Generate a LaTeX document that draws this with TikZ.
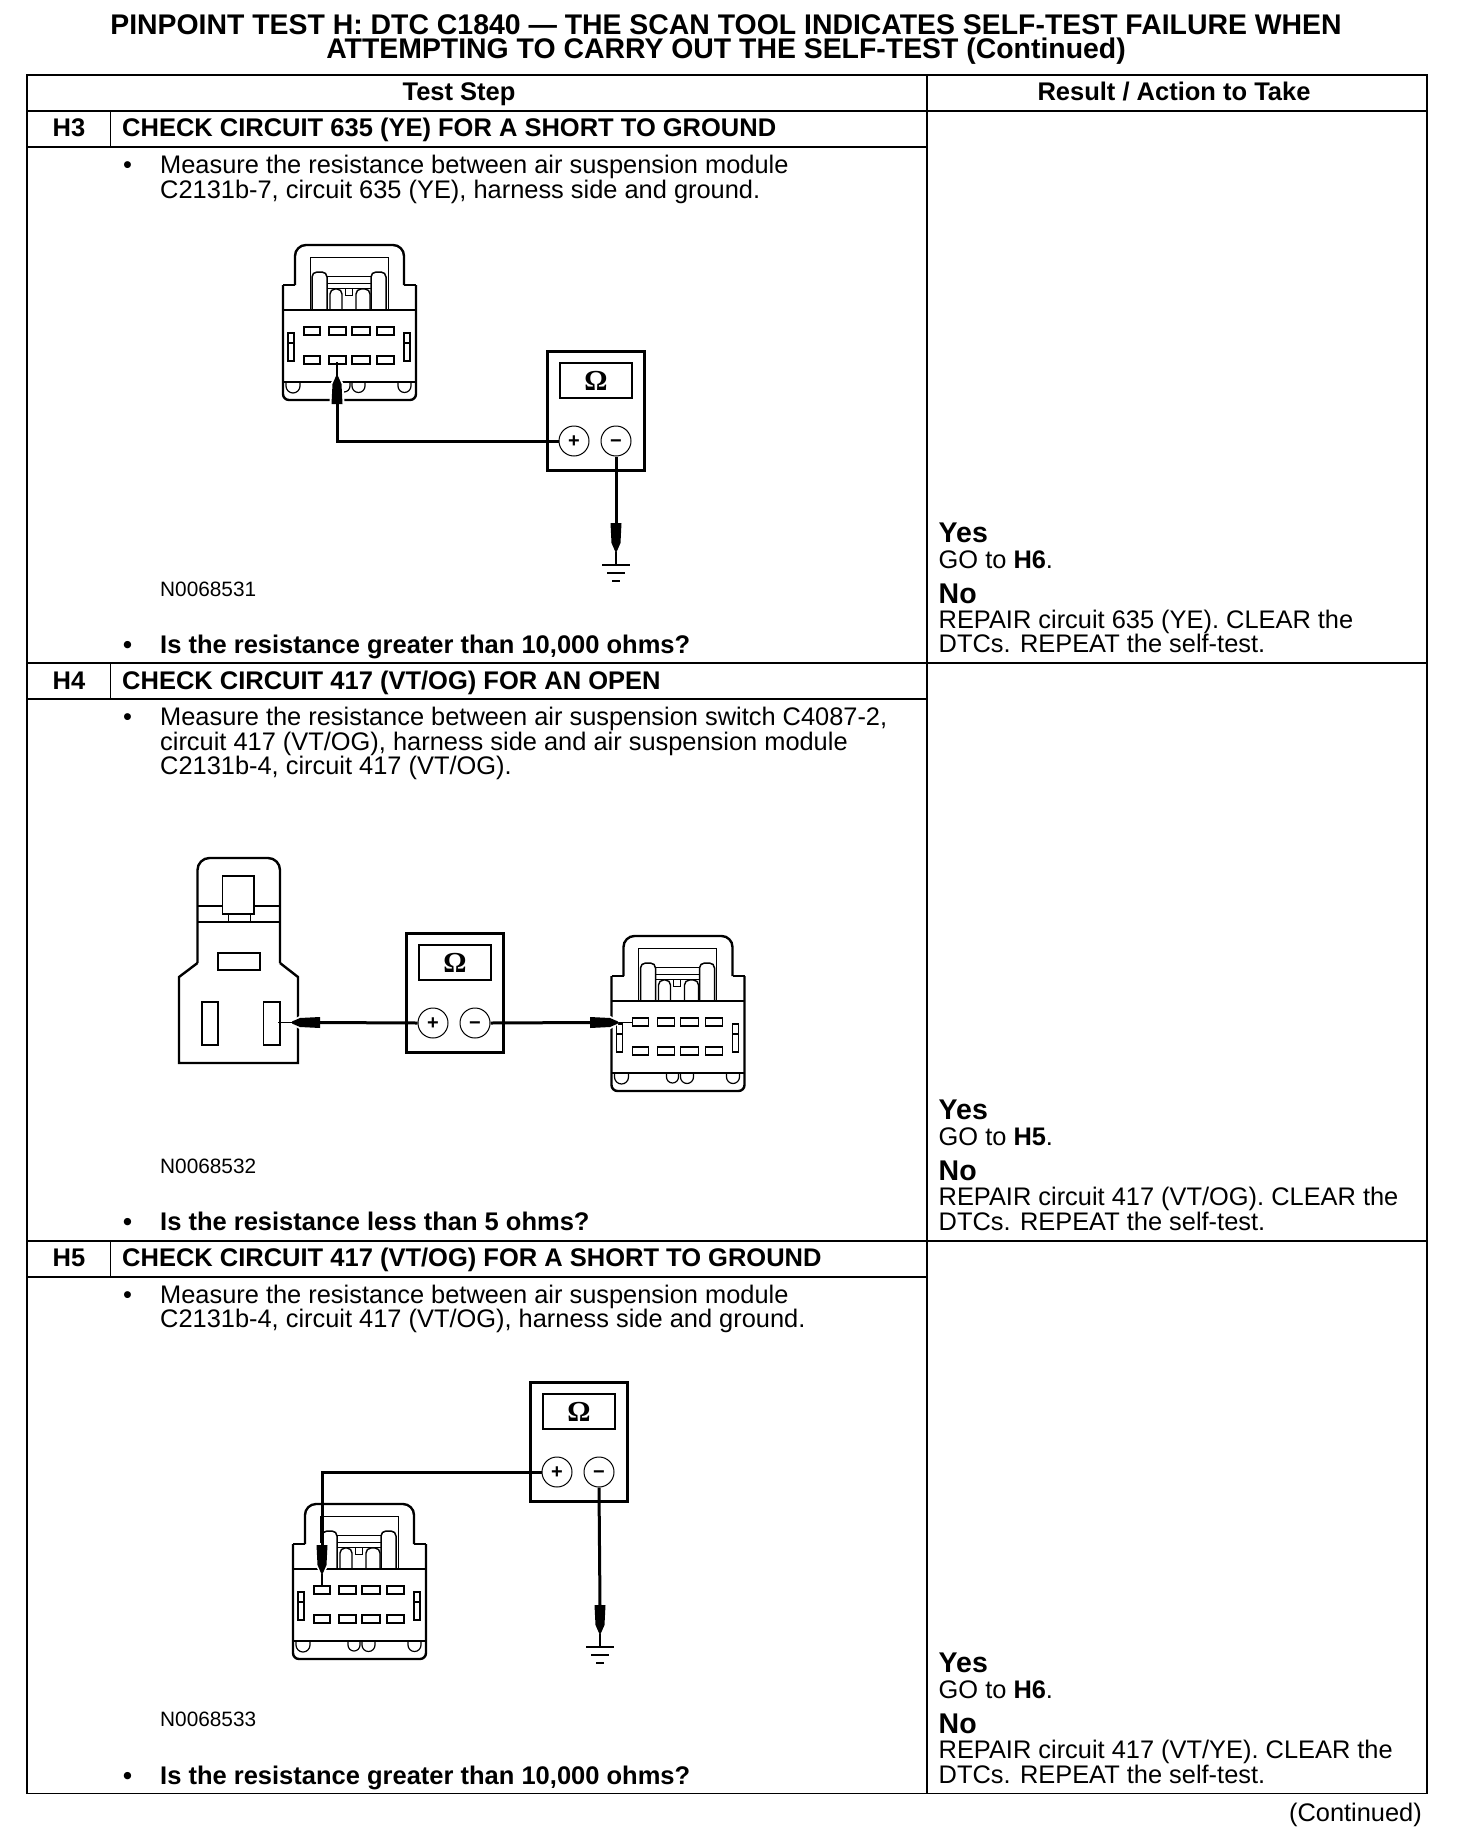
\documentclass[tikz,border=0pt]{standalone}
\usepackage{fontspec}
\setmainfont{Liberation Sans}
\newfontfamily\omegafont{Liberation Serif}
\tikzset{
  x=1pt,y=-1pt,
  tbl/.style={line width=1.9pt,black},
  txt/.style={inner sep=0pt,anchor=base west,font=\fontsize{25.4}{26}\selectfont},
  btxt/.style={txt,font=\fontsize{25.5}{26}\selectfont\bfseries},
  ctxt/.style={btxt,anchor=base},
  ytxt/.style={txt,font=\fontsize{28.5}{29}\selectfont\bfseries},
  ntxt/.style={txt,font=\fontsize{20.8}{21}\selectfont},
  ttl/.style={inner sep=0pt,anchor=base,font=\fontsize{28.4}{29}\selectfont\bfseries},
  outl/.style={line width=2.4pt,black},
  thinl/.style={line width=1pt,black},
  pinl/.style={line width=1.5pt,black,fill=white},
  wire/.style={line width=3pt,black},
  term/.style={circle,draw,line width=1pt,minimum size=30pt,inner sep=0pt,text height=13.2pt,text depth=0pt,font=\fontsize{20}{20}\selectfont\bfseries},
  conn/.pic={
    \draw[outl,rounded corners=11] (12,40) -- (12,0) -- (121,0) -- (121,40);
    \draw[outl,rounded corners=6] (0,40) -- (0,155) -- (133,155) -- (133,40);
    \draw[outl] (0,40) -- (12,40) (121,40) -- (133,40);
    \draw[thinl] (27,65) -- (27,12) -- (105,12) -- (105,65);
    \draw[line width=1.5pt,rounded corners=5] (29,65) -- (29,27) -- (44,27) -- (44,65);
    \draw[line width=1.5pt,rounded corners=5] (88,65) -- (88,27) -- (103,27) -- (103,65);
    \draw[thinl] (44,31) -- (88,31) (44,38) -- (88,38) (44,43) -- (88,43);
    \draw[line width=1.4pt,rounded corners=5] (47,65) -- (47,44) -- (59,44) -- (59,65);
    \draw[line width=1.4pt,rounded corners=5] (73,65) -- (73,44) -- (87,44) -- (87,65);
    \draw[thinl] (62,43) rectangle (69,50);
    \draw[outl] (0,65) -- (133,65);
    \foreach \yy in {82,111}
      \foreach \xa/\xb in {21/37,46/63,69/87,94/111}
        \draw[pinl] (\xa,\yy) rectangle (\xb,\yy+8);
    \draw[line width=1.2pt] (5,88) rectangle (11,116) (5,98) -- (11,98);
    \draw[line width=1.2pt] (121,88) rectangle (127,116) (121,98) -- (127,98);
    \draw[outl] (0,137) -- (133,137);
    \foreach \xa/\xb in {3/17,55/67,69/82,115/128}
      \draw[line width=1.2pt] (\xa,137) -- (\xa,141) arc[start angle=180,end angle=0,radius=(\xb-\xa)/2] -- (\xb,137);
  },
  meter/.pic={
    \draw[line width=3pt] (0,0) rectangle (97,119);
    \draw[line width=1.5pt] (13,12) rectangle (85,47);
    \node[inner sep=0pt,font=\omegafont\fontsize{29}{29}\selectfont\bfseries] (-ohm) at (49,30) {Ω};
    \node[term,fill=white] (-plus) at (27,90) {+};
    \node[term,fill=white] (-minus) at (69,90) {−};
  },
  probe/.pic={
    \draw[line width=1.2pt] (0,0) -- (0,18);
    \path[draw=white,line width=4pt] (-1,16) -- (-4.5,22) -- (-5.5,42) -- (5.5,42) -- (4.5,22) -- (1,16) -- cycle;
    \fill[black] (-1,14) -- (-4.5,22) -- (-5.5,42) -- (5.5,42) -- (4.5,22) -- (1,14) -- cycle;
  },
  gnd/.pic={
    \draw[line width=2.4pt] (-14,0) -- (14,0) (-9,8) -- (9,8) (-4,16) -- (4,16);
  }
}
\begin{document}
\begin{tikzpicture}
\useasboundingbox (0,0) rectangle (1456,1846);
\fill[white] (0,0) rectangle (1456,1846);
% title
\node[ttl] (t1) at (726,35) {PINPOINT TEST H: DTC C1840 — THE SCAN TOOL INDICATES SELF-TEST FAILURE WHEN};
\node[ttl] (t2) at (726,59) {ATTEMPTING TO CARRY OUT THE SELF-TEST (Continued)};
% table
\draw[tbl] (27,75) rectangle (1427,1793.5);
\draw[tbl] (927,75) -- (927,1793.5);
\draw[tbl] (27,111) -- (1427,111);
\draw[tbl] (27,147) -- (927,147);
\draw[tbl] (27,663) -- (1427,663);
\draw[tbl] (27,699) -- (927,699);
\draw[tbl] (27,1241) -- (1427,1241);
\draw[tbl] (27,1277) -- (927,1277);
\draw[tbl] (110.5,111) -- (110.5,147);
\draw[tbl] (110.5,663) -- (110.5,699);
\draw[tbl] (110.5,1241) -- (110.5,1277);
% headers
\node[ctxt] (h1) at (459,101) {Test Step};
\node[ctxt] (h2) at (1174,101) {Result / Action to Take};
% H3
\node[ctxt] (n3) at (69,137) {H3};
\node[btxt] (h3) at (122,137) {CHECK CIRCUIT 635 (YE) FOR A SHORT TO GROUND};
\node[txt] (b3) at (123,173.5) {•};
\node[txt] (s3a) at (160,173.5) {Measure the resistance between air suspension module};
\node[txt] (s3b) at (160,198) {C2131b-7, circuit 635 (YE), harness side and ground.};
\node[ntxt] (id3) at (160,596) {N0068531};
\node[btxt] (q3b) at (123,653.5) {•};
\node[btxt] (q3) at (160,653.5) {Is the resistance greater than 10,000 ohms?};
\node[ytxt] (y3) at (938.5,542) {Yes};
\node[txt] (g3) at (938.5,568) {GO to \textbf{H6}.};
\node[ytxt] (no3) at (938.5,603) {No};
\node[txt] (r3a) at (938.5,628) {REPAIR circuit 635 (YE). CLEAR the};
\node[txt] (r3b) at (938.5,652.5) {DTCs. REPEAT the self-test.};
% H4
\node[ctxt] (n4) at (69,689.5) {H4};
\node[btxt] (h4) at (122,689.5) {CHECK CIRCUIT 417 (VT/OG) FOR AN OPEN};
\node[txt] (b4) at (123,725) {•};
\node[txt] (s4a) at (160,725) {Measure the resistance between air suspension switch C4087-2,};
\node[txt] (s4b) at (160,750) {circuit 417 (VT/OG), harness side and air suspension module};
\node[txt] (s4c) at (160,774.5) {C2131b-4, circuit 417 (VT/OG).};
\node[ntxt] (id4) at (160,1173.5) {N0068532};
\node[btxt] (q4b) at (123,1230.5) {•};
\node[btxt] (q4) at (160,1230.5) {Is the resistance less than 5 ohms?};
\node[ytxt] (y4) at (938.5,1119) {Yes};
\node[txt] (g4) at (938.5,1145) {GO to \textbf{H5}.};
\node[ytxt] (no4) at (938.5,1180.5) {No};
\node[txt] (r4a) at (938.5,1205) {REPAIR circuit 417 (VT/OG). CLEAR the};
\node[txt] (r4b) at (938.5,1230) {DTCs. REPEAT the self-test.};
% H5
\node[ctxt] (n5) at (69,1266.5) {H5};
\node[btxt] (h5) at (122,1266.5) {CHECK CIRCUIT 417 (VT/OG) FOR A SHORT TO GROUND};
\node[txt] (b5) at (123,1303) {•};
\node[txt] (s5a) at (160,1303) {Measure the resistance between air suspension module};
\node[txt] (s5b) at (160,1327.5) {C2131b-4, circuit 417 (VT/OG), harness side and ground.};
\node[ntxt] (id5) at (160,1726) {N0068533};
\node[btxt] (q5b) at (123,1784) {•};
\node[btxt] (q5) at (160,1784) {Is the resistance greater than 10,000 ohms?};
\node[ytxt] (y5) at (938.5,1672) {Yes};
\node[txt] (g5) at (938.5,1698) {GO to \textbf{H6}.};
\node[ytxt] (no5) at (938.5,1733) {No};
\node[txt] (r5a) at (938.5,1758) {REPAIR circuit 417 (VT/YE). CLEAR the};
\node[txt] (r5b) at (938.5,1783) {DTCs. REPEAT the self-test.};
\node[txt,anchor=base east] (cont) at (1422,1821) {(Continued)};
% H3 figure
\pic (c3) at (283,245) {conn};
\pic (m3) at (547,351) {meter};
\coordinate (p3a) at (337,362);
\coordinate (p3b) at (616,565);
\pic at (p3a) {probe};
\pic[rotate=180] at (p3b) {probe};
\draw[wire] (m3-plus.west) -| (337,403);
\draw[wire] (m3-minus.south) -- (616,523);
\pic at (p3b) {gnd};
% H4 figure
\draw[outl,rounded corners=12] (197.5,963) -- (197.5,858) -- (280,858) -- (280,963);
\draw[outl] (197.5,963) -- (179,977) -- (179,1063) -- (298,1063) -- (298,977) -- (280,963);
\draw[outl] (197.5,906) -- (280,906) (197.5,922) -- (280,922);
\draw[line width=1.5pt,fill=white] (222.5,876) rectangle (254,914);
\draw[thinl] (228,914) -- (228,922) (250,914) -- (250,922);
\draw[line width=1.6pt] (218,953) rectangle (260,970);
\draw[line width=1.6pt] (202,1002) rectangle (218,1045);
\draw[line width=1.6pt] (263.5,1002) rectangle (280,1045);
\pic (c4) at (611.5,936) {conn};
\pic (m4) at (406,933) {meter};
\coordinate (p4a) at (278,1022.5);
\coordinate (p4b) at (632,1022.5);
\pic[rotate=90] at (p4a) {probe};
\pic[rotate=-90] at (p4b) {probe};
\draw[wire] (m4-plus.west) -- (320,1022.5);
\draw[wire] (m4-minus.east) -- (590,1022.5);
% H5 figure
\pic (c5) at (293,1504) {conn};
\pic (m5) at (530,1382) {meter};
\coordinate (p5a) at (322,1587);
\coordinate (p5b) at (600,1647);
\pic[rotate=180] at (p5a) {probe};
\pic[rotate=180] at (p5b) {probe};
\draw[wire] (m5-plus.west) -| (322,1546);
\draw[wire] (m5-minus.south) -- (600,1606);
\pic at (p5b) {gnd};
\end{tikzpicture}
\end{document}
